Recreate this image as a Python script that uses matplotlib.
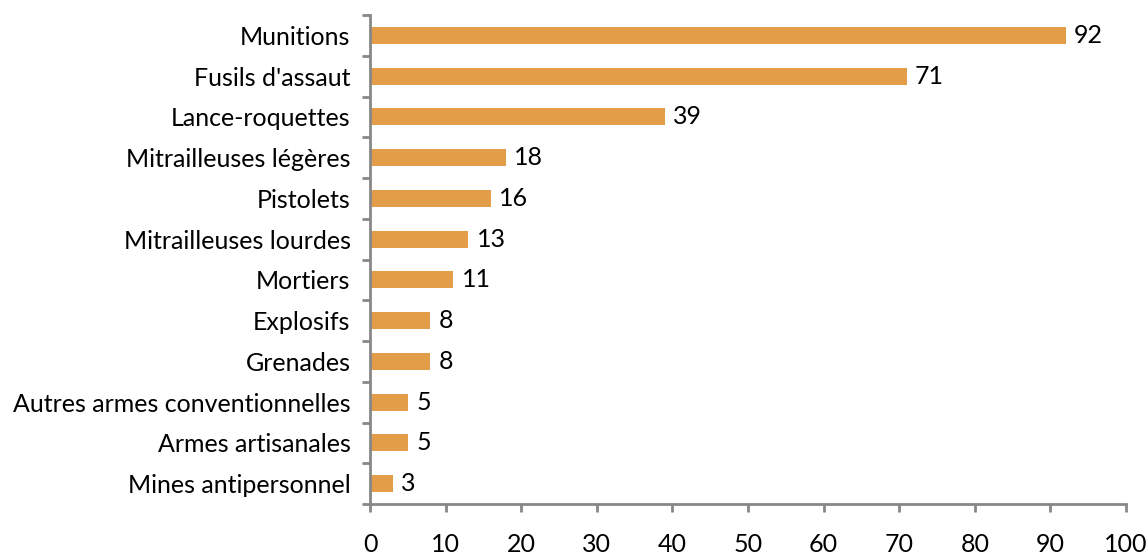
import numpy as np
import matplotlib.pyplot as plt

categories = ['Munitions', "Fusils d'assaut", 'Lance-roquettes', 'Mitrailleuses légères',
              'Pistolets', 'Mitrailleuses lourdes', 'Mortiers', 'Explosifs', 'Grenades',
              'Autres armes conventionnelles', 'Armes artisanales', 'Mines antipersonnel']
values = [92, 71, 39, 18, 16, 13, 11, 8, 8, 5, 5, 3]

plt.rcParams['font.family'] = ['Lato', 'DejaVu Sans']
fs = 18

fig = plt.figure(figsize=(11.48, 5.55), dpi=100)
ax = fig.add_axes([370/1148, 1-504/555, (1126-370)/1148, (504-15)/555])

n = len(categories)
y = np.arange(n)[::-1]
ax.barh(y, values, height=0.42, color='#E39C48')
for yi, v in zip(y, values):
    ax.text(v + 1.1, yi, str(v), va='center', ha='left', fontsize=fs)

ax.set_xlim(0, 100)
ax.set_ylim(-0.5, n - 0.5)
ax.set_xticks(np.arange(0, 101, 10))
ax.set_yticks(y)
ax.set_yticklabels(categories, fontsize=fs)
ax.set_yticks(np.arange(-0.5, n, 1), minor=True)

gray = '#878787'
for s in ['top', 'right']:
    ax.spines[s].set_visible(False)
for s in ['left', 'bottom']:
    ax.spines[s].set_color(gray)
    ax.spines[s].set_linewidth(2)

ax.tick_params(axis='x', direction='out', length=6, width=2, color=gray, pad=15, labelsize=fs)
ax.tick_params(axis='y', which='major', length=0, pad=14)
ax.tick_params(axis='y', which='minor', direction='out', length=6, width=2, color=gray)

fig.savefig('out.png', dpi=100)
